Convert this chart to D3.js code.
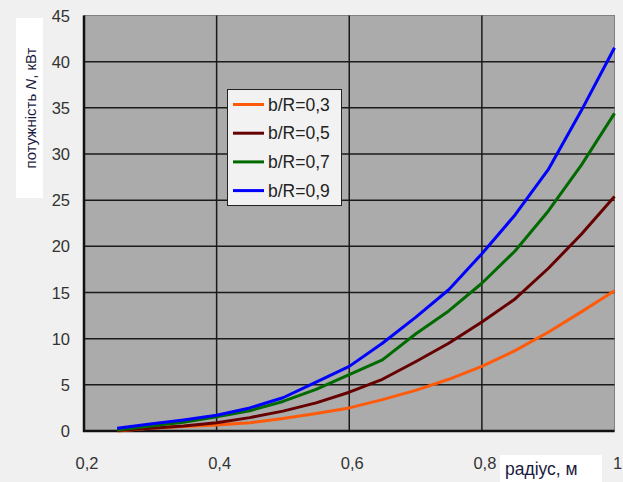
<!DOCTYPE html>
<html>
<head>
<meta charset="utf-8">
<script src="https://cdn.jsdelivr.net/npm/d3@7"></script>
<style>
  body { margin: 0; background: #f0f0f0; }
  svg { display: block; font-family: "Liberation Sans", Arial, sans-serif; }
</style>
</head>
<body>
<svg width="623" height="482"></svg>
<script>
// radius, m
var radius = [0.25, 0.30, 0.35, 0.40, 0.45, 0.50, 0.55, 0.60, 0.65, 0.70, 0.75, 0.80, 0.85, 0.90, 0.95, 1.00];
// power N, kW for each b/R
var br03 = [0.0, 0.3, 0.5, 0.65, 0.9, 1.35, 1.9, 2.5, 3.4, 4.4, 5.6, 7.0, 8.7, 10.7, 12.9, 15.2];
var br05 = [0.05, 0.3, 0.55, 0.9, 1.45, 2.15, 3.05, 4.2, 5.6, 7.5, 9.5, 11.8, 14.3, 17.6, 21.3, 25.4];
var br07 = [0.1, 0.55, 0.95, 1.55, 2.2, 3.2, 4.5, 6.1, 7.7, 10.5, 13.0, 16.0, 19.5, 23.8, 28.8, 34.4];
var br09 = [0.3, 0.75, 1.2, 1.7, 2.5, 3.6, 5.3, 7.0, 9.5, 12.3, 15.3, 19.2, 23.4, 28.3, 34.7, 41.5];
var seriesNames = ["b/R=0,3", "b/R=0,5", "b/R=0,7", "b/R=0,9"];
var seriesColors = ["#ff5a0a", "#660000", "#006a00", "#0000ff"];
var xTicks = [0.2, 0.4, 0.6, 0.8, 1.0];
var yTicks = [0, 5, 10, 15, 20, 25, 30, 35, 40, 45];

var svg = d3.select("svg");
var x = d3.scaleLinear().domain([0.2, 1.0]).range([84, 614.5]);
var y = d3.scaleLinear().domain([0, 45]).range([431, 15.5]);
var fmt = function(d) { return String(d).replace(".", ","); };

// plot area
svg.append("rect")
    .attr("x", x(0.2)).attr("y", y(45))
    .attr("width", x(1) - x(0.2)).attr("height", y(0) - y(45))
    .attr("fill", "#ababab")
    .attr("stroke", "#808080").attr("stroke-width", 1);

// grid
svg.append("g").selectAll("line").data(yTicks.slice(1, -1)).join("line")
    .attr("x1", x(0.2)).attr("x2", x(1))
    .attr("y1", d => y(d)).attr("y2", d => y(d))
    .attr("stroke", "#1a1a1a").attr("stroke-width", 1.5);
svg.append("g").selectAll("line").data(xTicks.slice(1, -1)).join("line")
    .attr("x1", d => x(d)).attr("x2", d => x(d))
    .attr("y1", y(45)).attr("y2", y(0))
    .attr("stroke", "#1a1a1a").attr("stroke-width", 1.5);

// axis lines
svg.append("line").attr("x1", x(0.2)).attr("x2", x(0.2)).attr("y1", y(45)).attr("y2", y(0) + 1)
    .attr("stroke", "#111").attr("stroke-width", 2.5);
svg.append("line").attr("x1", x(0.2) - 1).attr("x2", x(1)).attr("y1", y(0)).attr("y2", y(0))
    .attr("stroke", "#111").attr("stroke-width", 2.5);

// tick labels
svg.append("g").selectAll("text").data(yTicks).join("text")
    .attr("x", 70).attr("y", d => y(d) + 6)
    .attr("text-anchor", "end")
    .style("font-size", "16.5px").attr("fill", "#333")
    .text(d => d);
svg.append("g").selectAll("text").data(xTicks).join("text")
    .attr("x", d => x(d) + 3).attr("y", 469)
    .attr("text-anchor", "middle")
    .style("font-size", "16.5px").attr("fill", "#333")
    .text(fmt);

// lines
var series = [br03, br05, br07, br09];
var line = d3.line().x((d, i) => x(radius[i])).y(d => y(d));
series.forEach(function(s, k) {
  svg.append("path")
      .datum(s)
      .attr("fill", "none")
      .attr("stroke", seriesColors[k])
      .attr("stroke-width", 3)
      .attr("stroke-linejoin", "round")
      .attr("d", line);
});

// legend
var lg = svg.append("g");
lg.append("rect")
    .attr("x", 227.5).attr("y", 89.5).attr("width", 114).attr("height", 116)
    .attr("fill", "#f2f2f2").attr("stroke", "#222").attr("stroke-width", 1);
seriesNames.forEach(function(name, k) {
  var ly = 104.5 + k * 28.7;
  lg.append("line").attr("x1", 233).attr("x2", 264).attr("y1", ly).attr("y2", ly)
      .attr("stroke", seriesColors[k]).attr("stroke-width", 3);
  lg.append("text").attr("x", 268).attr("y", ly + 6)
      .style("font-size", "17.5px").attr("fill", "#222")
      .text(name);
});

// axis titles
svg.append("rect").attr("x", 16).attr("y", 18).attr("width", 27).attr("height", 180).attr("fill", "#fff");
var yl = svg.append("text")
    .attr("transform", "translate(36,108) rotate(-90)")
    .attr("text-anchor", "middle")
    .style("font-size", "15px").attr("fill", "#1a1a40");
yl.append("tspan").text("потужність ");
yl.append("tspan").style("font-style", "italic").text("N");
yl.append("tspan").text(", кВт");

svg.append("rect").attr("x", 500).attr("y", 455).attr("width", 102).attr("height", 27).attr("fill", "#fff");
svg.append("text").attr("x", 505).attr("y", 475)
    .style("font-size", "17.5px").attr("fill", "#1a1a40")
    .text("радіус, м");
</script>
</body>
</html>
